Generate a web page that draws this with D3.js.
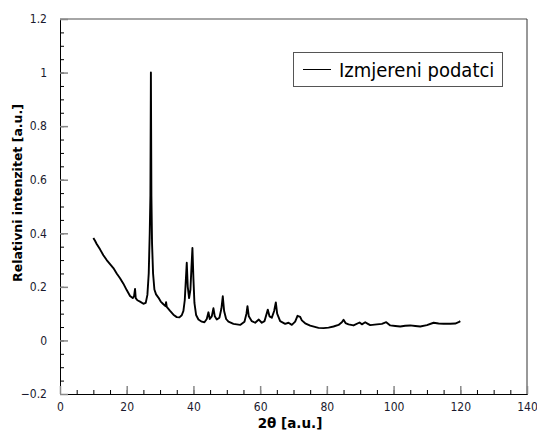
<!DOCTYPE html>
<html>
<head>
<meta charset="utf-8">
<script src="https://cdn.jsdelivr.net/npm/d3@7"></script>
<style>
  body { margin: 0; background: #fff; }
  text { font-family: "DejaVu Sans Condensed", "DejaVu Sans", sans-serif; }
</style>
</head>
<body>
<div id="chart"></div>
<script>
// 2theta positions
var twoTheta = [10, 10.5, 11, 12, 13, 14, 15, 16, 17, 18, 19, 20, 21, 21.8, 22.2, 22.5, 22.7, 23.2, 24, 25,
  25.7, 26.2, 26.6, 26.9, 27.1, 27.25, 27.4, 27.6, 27.9, 28.3, 28.8, 29.5, 30.2, 31, 31.6, 31.8, 32, 33, 34, 35,
  35.8, 36.5, 37, 37.4, 37.7, 38, 38.3, 38.7, 39.1, 39.4, 39.7, 40, 40.3, 40.8, 41.5, 42.5, 43.3, 44, 44.5, 44.9,
  45.5, 46, 46.4, 47, 47.8, 48.4, 48.8, 49.2, 49.8, 50.5, 52, 54, 55.3, 55.9, 56.2, 56.6, 57.5, 58.5, 59.6, 60.5,
  61.3, 62.3, 62.8, 63.5, 64.2, 64.7, 65.1, 66, 67.5, 68.5, 69.5, 70.5, 71.2, 72, 72.5, 73.5, 75, 77.5, 79, 80.5,
  82, 83.5, 84.5, 85, 85.6, 86.5, 88, 89.8, 90.5, 91.5, 92.3, 93, 95, 96.5, 97.8, 99, 100.5, 102, 103.5, 105,
  106.5, 108, 110, 112, 113.5, 115, 117, 118.5, 119.5, 120];

// relative intensity at those positions
var intensity = [0.382, 0.372, 0.36, 0.34, 0.318, 0.3, 0.285, 0.27, 0.25, 0.232, 0.212, 0.188, 0.166, 0.158, 0.165, 0.192, 0.158, 0.15, 0.145, 0.137,
  0.14, 0.17, 0.25, 0.4, 0.54, 1.0, 0.54, 0.36, 0.25, 0.19, 0.172, 0.16, 0.145, 0.135, 0.128, 0.143, 0.125, 0.11, 0.096, 0.087,
  0.086, 0.094, 0.11, 0.15, 0.22, 0.29, 0.2, 0.158, 0.19, 0.27, 0.345, 0.23, 0.14, 0.095, 0.078, 0.07, 0.068, 0.08, 0.105, 0.08,
  0.09, 0.12, 0.09, 0.078, 0.085, 0.12, 0.165, 0.11, 0.08, 0.07, 0.062, 0.058, 0.07, 0.1, 0.128, 0.09, 0.072, 0.066, 0.078, 0.066,
  0.072, 0.115, 0.09, 0.085, 0.11, 0.142, 0.1, 0.072, 0.062, 0.066, 0.058, 0.07, 0.092, 0.088, 0.075, 0.064, 0.055, 0.047, 0.046, 0.048,
  0.052, 0.058, 0.068, 0.077, 0.065, 0.06, 0.056, 0.067, 0.06, 0.068, 0.062, 0.057, 0.06, 0.062, 0.068, 0.056, 0.054, 0.052, 0.055, 0.056,
  0.054, 0.052, 0.057, 0.066, 0.063, 0.062, 0.062, 0.063, 0.068, 0.072];

var xTicks = [0, 20, 40, 60, 80, 100, 120, 140];
var yTicks = [-0.2, 0, 0.2, 0.4, 0.6, 0.8, 1, 1.2];
var legendLabel = "Izmjereni podatci";

var W = 537, H = 433;
var L = 60, R = 527, T = 19, B = 394;

var svg = d3.select("#chart").append("svg").attr("width", W).attr("height", H);

var x = d3.scaleLinear().domain([0, 140]).range([L, R]);
var y = d3.scaleLinear().domain([-0.2, 1.2]).range([B, T]);

// frame: top & right lighter
svg.append("line").attr("x1", L).attr("x2", R).attr("y1", T).attr("y2", T)
  .attr("stroke", "#888").attr("stroke-width", 1.5);
svg.append("line").attr("x1", R).attr("x2", R).attr("y1", T).attr("y2", B)
  .attr("stroke", "#333").attr("stroke-width", 1);

// minor ticks
var xMinor = d3.range(0, 141, 5), yMinor = d3.range(-0.2, 1.2001, 0.05);
svg.append("g").attr("transform", "translate(0," + B + ")")
  .call(d3.axisBottom(x).tickValues(xMinor).tickSize(-4).tickFormat(""))
  .call(function(g) { g.select(".domain").attr("stroke", "#000"); g.selectAll("line").attr("stroke", "#000"); });
svg.append("g").attr("transform", "translate(" + L + ",0)")
  .call(d3.axisLeft(y).tickValues(yMinor).tickSize(-4).tickFormat(""))
  .call(function(g) { g.select(".domain").attr("stroke", "#000"); g.selectAll("line").attr("stroke", "#000"); });

// major ticks + labels
var fmt = function(d) { return d < 0 ? "\u2212" + Math.abs(d) : d3.format("~g")(d); };
var gx = svg.append("g").attr("transform", "translate(0," + B + ")")
  .call(d3.axisBottom(x).tickValues(xTicks).tickSize(-8).tickPadding(16).tickFormat(fmt));
var gy = svg.append("g").attr("transform", "translate(" + L + ",0)")
  .call(d3.axisLeft(y).tickValues(yTicks).tickSize(-8).tickPadding(13).tickFormat(fmt));
[gx, gy].forEach(function(g) {
  g.select(".domain").remove();
  g.selectAll("line").attr("stroke", "#888").attr("stroke-width", 1.5);
  g.selectAll("text").attr("font-size", 12).attr("fill", "#1a1a2e")
    .style("font-family", '"DejaVu Sans Condensed", "DejaVu Sans", sans-serif');
});
gx.selectAll("text").attr("dy", "0");
gx.selectAll("text").attr("y", 17);

// measured curve
var pts = twoTheta.map(function(d, i) { return [d, intensity[i]]; });
svg.append("path").datum(pts)
  .attr("fill", "none").attr("stroke", "#000").attr("stroke-width", 1.9)
  .attr("stroke-linejoin", "round")
  .attr("d", d3.line().x(function(d) { return x(d[0]); }).y(function(d) { return y(d[1]); }));

// legend
var lg = svg.append("g");
lg.append("rect").attr("x", 293.5).attr("y", 52.5).attr("width", 209).attr("height", 34)
  .attr("fill", "#fff").attr("stroke", "#555");
lg.append("line").attr("x1", 303).attr("x2", 331).attr("y1", 69.5).attr("y2", 69.5)
  .attr("stroke", "#000").attr("stroke-width", 1);
lg.append("text").attr("x", 339).attr("y", 76.5).attr("font-size", 20).attr("fill", "#000")
  .text(legendLabel);

// axis titles
svg.append("text").attr("x", 290).attr("y", 428).attr("text-anchor", "middle")
  .style("font-family", '"DejaVu Sans", sans-serif')
  .attr("font-size", 13.5).attr("font-weight", "bold").text("2\u03b8 [a.u.]");
svg.append("text").attr("transform", "translate(22,193) rotate(-90)").attr("text-anchor", "middle")
  .style("font-family", '"DejaVu Sans", sans-serif')
  .attr("font-size", 12.5).attr("font-weight", "bold").text("Relativni intenzitet [a.u.]");
</script>
</body>
</html>
